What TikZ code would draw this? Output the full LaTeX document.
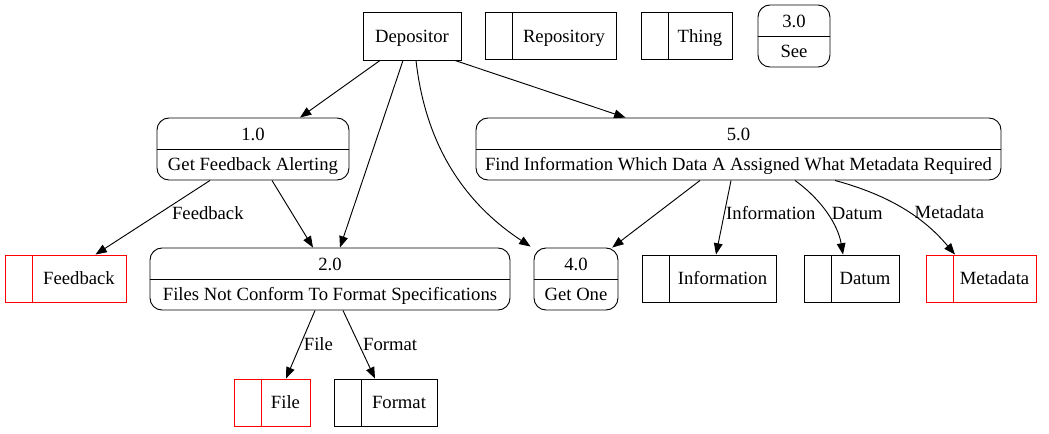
\documentclass[tikz,border=0pt]{standalone}
\usepackage{fontspec}
\setmainfont{Liberation Serif}
\usetikzlibrary{arrows.meta,calc}
\newcommand{\proclines}[2]{\rule{0pt}{12.3pt}#1\\#2\rule[-3pt]{0pt}{3pt}}
\begin{document}
\begin{tikzpicture}[x=0.75pt,y=-0.75pt,
  font=\fontsize{14}{17}\selectfont, line width=0.7pt,
  >={Triangle[length=8.5pt,width=6.5pt]},
  entity/.style={draw, inner sep=0pt, minimum height=36pt, text height=10.3pt, text depth=1pt},
  store/.style={draw=#1, inner sep=0pt, minimum height=35.25pt,
    text height=10.3pt, text depth=1pt,
    path picture={\draw[#1, line width=0.7pt]
      ([xshift=20.25pt]path picture bounding box.north west) --
      ([xshift=20.25pt]path picture bounding box.south west);}},
  store/.default=black,
  proc/.style={draw, rounded corners=9pt, align=center, inner sep=0pt,
    minimum height=46.5pt, font=\fontsize{14}{22.5}\selectfont,
    path picture={\draw[line width=0.7pt]
      (path picture bounding box.west) -- (path picture bounding box.east);}},
  lbl/.style={inner sep=0pt, anchor=west, text height=10.3pt, text depth=1pt},
  flow/.style={->}
]
\useasboundingbox (0,0) rectangle (1049,433);

% top row
\node[entity, minimum width=73.5pt] (dep) at (412,36) {Depositor};
\node[store, minimum width=98.25pt] (repo) at (550.5,36) {\hspace*{20.25pt}Repository};
\node[store, minimum width=68.25pt] (thing) at (686.5,36) {\hspace*{20.25pt}Thing};
\node[proc, minimum width=54pt] (p3) at (794,36) {\proclines{3.0}{See}};

% middle row
\node[proc, minimum width=144pt] (p1) at (253,149) {\proclines{1.0}{Get Feedback Alerting}};
\node[proc, minimum width=393.75pt] (p5) at (738.5,149) {\proclines{5.0}{Find Information Which Data A Assigned What Metadata Required}};

% lower row
\node[store=red, minimum width=90.75pt] (fb) at (65.5,278.5) {\hspace*{20.25pt}Feedback};
\node[proc, minimum width=270pt] (p2) at (330,279) {\proclines{2.0}{Files Not Conform To Format Specifications}};
\node[proc, minimum width=63pt] (p4) at (576,279) {\proclines{4.0}{Get One}};
\node[store, minimum width=100.5pt] (info) at (709,278.5) {\hspace*{20.25pt}Information};
\node[store, minimum width=71.25pt] (datum) at (851.5,278.5) {\hspace*{20.25pt}Datum};
\node[store=red, minimum width=82.5pt] (meta) at (981,278.5) {\hspace*{20.25pt}Metadata};

% bottom row
\node[store=red, minimum width=57pt] (file) at (272,402.5) {\hspace*{20.25pt}File};
\node[store, minimum width=77.25pt] (format) at (385.5,402.5) {\hspace*{20.25pt}Format};

% edges from Depositor
\draw[flow] ($(dep.south)+(-32,0)$) -- ($(p1.north)+(47,0)$);
\draw[flow] ($(dep.south)+(-9,0)$) -- ($(p2.north)+(10,0)$);
\draw[flow] ($(dep.south)+(4,0)$) .. controls (425,140) and (460,200) .. ($(p4.north west)+(-3,-1)$);
\draw[flow] ($(dep.south)+(43,0)$) -- ($(p5.north)+(-113,0)$);

% edges from 1.0
\draw[flow] ($(p1.south)+(-43,0)$) -- node[lbl, pos=0.44, xshift=9pt] (lfb) {Feedback} ($(fb.north)+(30,0)$);
\draw[flow] ($(p1.south)+(19,0)$) -- ($(p2.north)+(-17,0)$);

% edges from 5.0
\draw[flow] ($(p5.south)+(-38.5,0)$) -- (p4.41);
\draw[flow] ($(p5.south)+(-7.5,0)$) -- node[lbl, pos=0.44, xshift=1pt] (linfo) {Information} ($(info.north)+(7,0)$);
\draw[flow] ($(p5.south)+(56.5,0)$) .. controls (822,200) and (838,225) .. ($(datum.north)+(-8.5,0)$)
  node[lbl, pos=0.49, xshift=3.5pt] (ldatum) {Datum};
\draw[flow] ($(p5.south)+(96.5,0)$) .. controls (900,198) and (930,225) .. ($(meta.north)+(-26,0)$)
  node[lbl, pos=0.49, xshift=4pt] (lmeta) {Metadata};

% edges from 2.0
\draw[flow] ($(p2.south)+(-15,0)$) -- node[lbl, pos=0.49, xshift=2pt] (lfile) {File} ($(file.north)+(14,0)$);
\draw[flow] ($(p2.south)+(13,0)$) -- node[lbl, pos=0.49, xshift=3pt] (lformat) {Format} ($(format.north)+(-10.5,0)$);
\end{tikzpicture}
\end{document}
